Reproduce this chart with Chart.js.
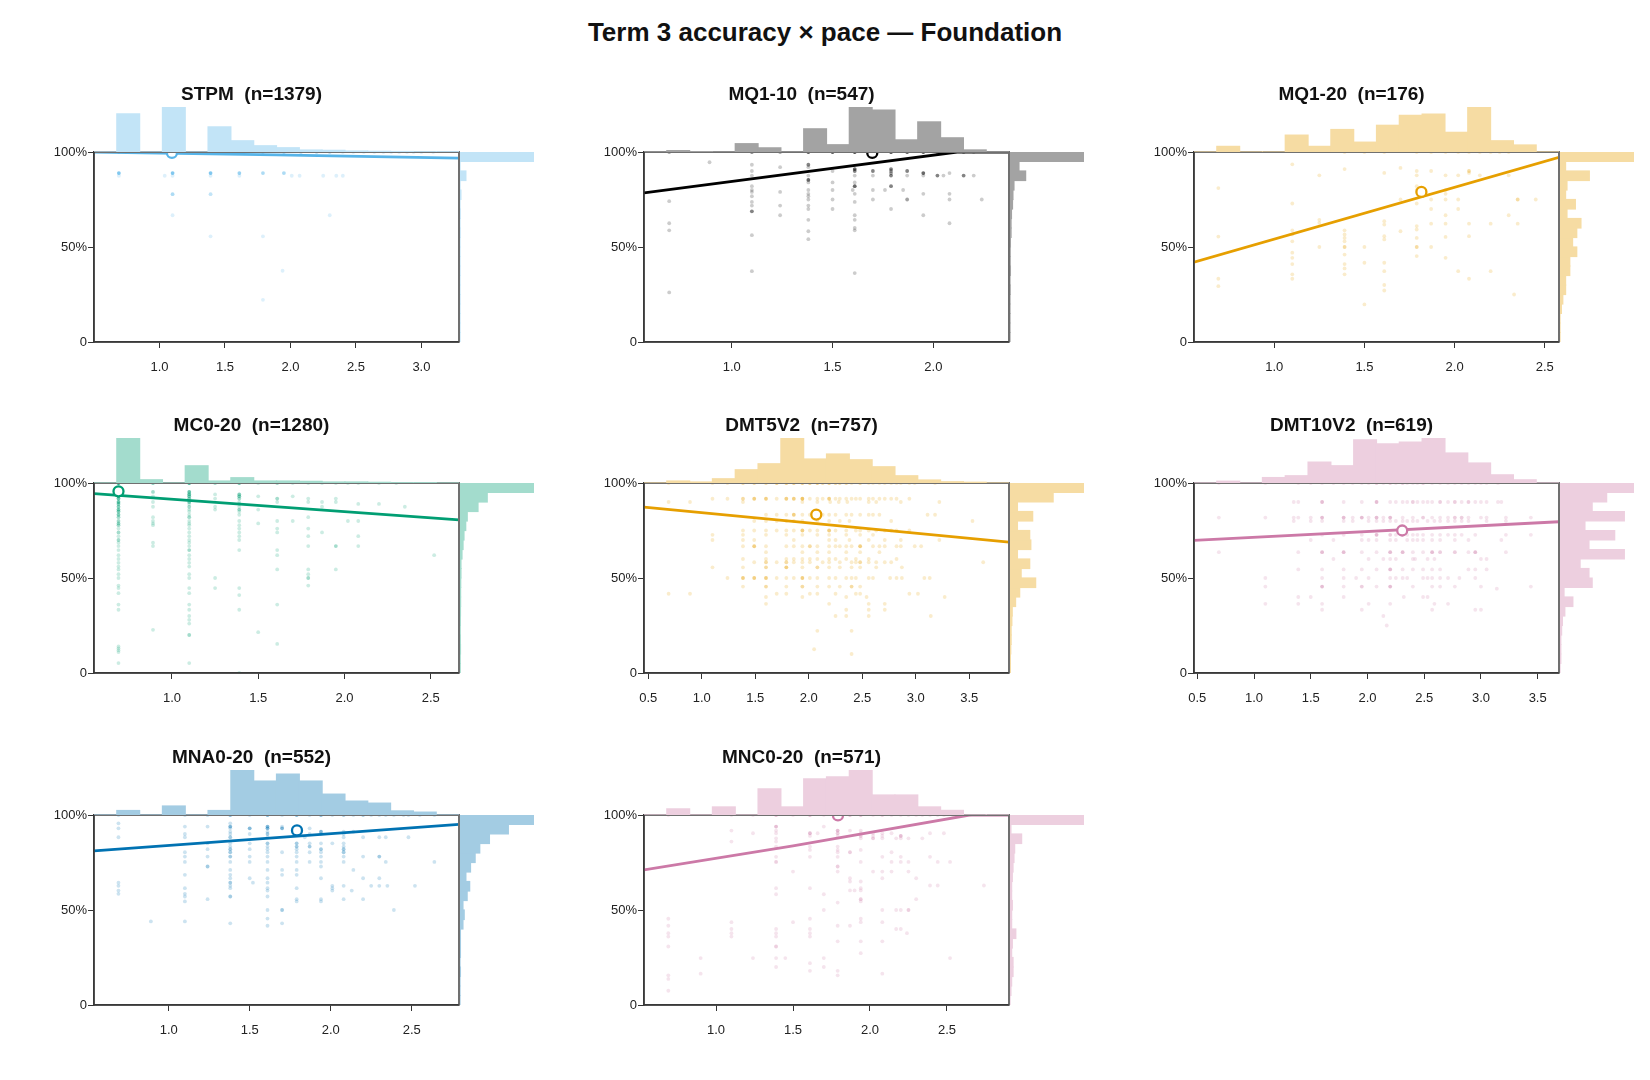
<!DOCTYPE html>
<html><head><meta charset="utf-8">
<script src="https://cdn.jsdelivr.net/npm/chart.js@4.4.1/dist/chart.umd.min.js"></script>
<style>
html,body{margin:0;padding:0;background:#fff;}
body{width:1650px;height:1080px;position:relative;overflow:hidden;font-family:"Liberation Sans",Arial,Helvetica,sans-serif;}
#title{position:absolute;left:0;width:1650px;top:17px;line-height:30px;text-align:center;font-weight:bold;font-size:26px;color:#111;}
canvas{position:absolute;}
</style></head><body>
<div id="title">Term 3 accuracy × pace — Foundation</div>
<script>
// ---------------- DATA ----------------
const panelNames = ['STPM','MQ1-10','MQ1-20','MC0-20','DMT5V2','DMT10V2','MNA0-20','MNC0-20'];
const panelN = [1379,547,176,1280,757,619,552,571];
const xMin = [0.5, 0.565, 0.555, 0.548, 0.46, 0.471, 0.539, 0.532];
const xMax = [3.287, 2.375, 2.579, 2.664, 3.871, 3.688, 2.792, 2.903];
const xTicks = [[1,1.5,2,2.5,3],[1,1.5,2],[1,1.5,2,2.5],[1,1.5,2,2.5],[0.5,1,1.5,2,2.5,3,3.5],[0.5,1,1.5,2,2.5,3,3.5],[1,1.5,2,2.5],[1,1.5,2,2.5]];
const yTicks = [0, 0.5, 1];
const meanX = [1.095, 1.697, 1.816, 0.69, 2.07, 2.306, 1.792, 1.792];
const meanY = [0.995, 0.995, 0.79, 0.956, 0.834, 0.75, 0.919, 0.998];
const fitX = [[0.5,1.89,3.287],[0.565,2.118,2.375],[0.555,2.579],[0.548,2.664],[0.46,3.871],[0.471,3.688],[0.539,2.792],[0.532,1.5,2.647,2.903]];
const fitY = [[0.999,0.985,0.968],[0.785,1.0,1.0],[0.42,0.972],[0.944,0.806],[0.873,0.689],[0.698,0.796],[0.811,0.951],[0.711,0.838,1.0,1.0]];
// x-marginal histograms: 16 equal bins across the x axis range
const topBins = [
  [0,383,0,453,0,253,113,63,43,20,17,10,7,5,3,3],
  [0,4,1,0,24,12,0,67,21,130,121,35,87,41,6,0],
  [0,4,0,0,12,4,16,7,19,26,27,14,32,8,5,0],
  [0,706,51,0,270,31,83,31,31,26,16,16,11,5,5,0],
  [0,8,4,17,53,77,180,96,116,93,65,29,12,5,3,0],
  [0,4,0,12,16,46,38,95,86,90,99,66,44,18,7,0],
  [0,11,0,22,0,11,110,83,100,83,51,34,29,10,7,0],
  [0,16,0,21,0,68,21,94,99,117,52,52,21,12,0,0]
];
// y-marginal histograms: 20 bins of 5% from 0 to 100%
const rightBins = [
  [0,0,0,0,1,0,0,1,0,0,0,3,0,4,0,15,0,100,0,1255],
  [0,0,0,0,0,1,0,2,1,1,2,5,5,7,12,14,19,75,43,355],
  [0,0,0,1,2,4,4,7,7,12,9,12,15,5,11,4,5,21,4,53],
  [2,2,4,3,2,3,4,5,5,6,8,8,17,26,34,49,62,154,233,633],
  [1,1,2,3,3,5,6,15,26,69,30,53,20,56,53,20,61,20,116,199],
  [0,1,1,1,2,3,6,16,5,40,36,25,80,36,68,31,80,40,58,92],
  [0,0,0,1,0,1,1,1,7,10,7,17,23,14,25,36,47,70,115,176],
  [0,4,7,13,13,7,10,25,7,7,10,7,7,10,13,17,20,50,4,318]
];
// student points: each row = [accuracy, pace values...]; [pace, k] = k overlapping students
const stpmRows = [
  [1.0,[0.69,6],[1.1,6],[1.39,5],[1.61,4],[1.79,3],[1.95,3],[2.08,2],[2.2,2],[2.3,2],2.4,2.48,2.56,2.64,2.71,2.77,2.83,2.89,2.94,3.0,3.09],
  [0.889,[0.69,6],[1.1,6],[1.39,6],[1.61,4],[1.79,3],[1.95,3]],
  [0.875,0.69,1.04,1.1,1.39,1.61,2.01,2.07,2.25,2.35,2.4],
  [0.778,[1.1,3],[1.39,2]],
  [0.667,1.1,2.3],
  [0.556,1.39,1.79],
  [0.375,1.94],
  [0.222,1.79]
];
const mq110Rows = [
  [1.0,[0.69,2],[1.1,3],[1.24,2],[1.38,5],[1.5,5],[1.61,6],[1.7,6],[1.79,6],[1.87,5],[1.95,5],[2.02,3],[2.08,3],[2.15,2],2.2],
  [0.946,0.89],
  [0.933,1.1,[1.38,3]],
  [0.92,1.24,1.38],
  [0.91,[1.61,4],[1.79,3]],
  [0.9,1.1,1.5,[1.61,3],[1.7,3],[1.87,3],[1.79,2]],
  [0.889,[1.95,4],2.08,[1.79,2]],
  [0.876,1.1,1.38,1.61,1.7,[1.79,3],1.87,1.95,[2.02,3],[2.15,3],2.2,2.05],
  [0.853,[1.38,4]],
  [0.84,1.38,1.5,1.61],
  [0.82,1.1,[1.61,4],[1.79,3]],
  [0.8,1.1,1.38,1.5,1.6,1.7,1.76,1.85],
  [0.79,1.1,1.24],
  [0.78,1.38,1.61,1.95,2.08],
  [0.767,1.1,1.38],
  [0.75,1.38,1.5,1.7,[1.87,2],2.08,2.24],
  [0.741,0.69],
  [0.737,1.1,1.61],
  [0.718,1.1,1.24,1.38],
  [0.7,1.38,1.5,1.79],
  [0.688,[1.1,3]],
  [0.667,1.24,1.61,1.95],
  [0.643,1.38,1.61],
  [0.625,0.69,2.08],
  [0.6,1.61],
  [0.588,0.69,1.61],
  [0.583,1.38],
  [0.562,1.1],
  [0.541,1.38],
  [0.373,1.1],
  [0.363,1.61],
  [0.261,0.69]
];
const mq120Rows = [
  [1.0,1.39,1.5,1.61,1.79,1.87,1.95,2.02,2.08,2.14,2.2,2.25,2.3],
  [0.935,1.1],[0.916,1.7],[0.91,1.39],
  [0.9,1.79,1.87,[2.08,2]],
  [0.89,1.61,2.08],
  [0.877,1.25,1.79,1.95,2.02,2.14,2.3],
  [0.82,1.79],[0.81,0.69],[0.8,1.79,1.95],[0.78,1.95],
  [0.75,1.7,1.87,1.95,2.02,[2.35,2],2.45],
  [0.729,1.1,1.79],[0.7,1.87,2.02],[0.667,1.95,2.3],
  [0.643,1.25],[0.636,1.61],[0.627,1.25],
  [0.623,1.87,1.95,2.08,2.2,2.35],
  [0.618,1.61],[0.61,1.79],[0.592,1.79],[0.588,1.1,1.39],[0.583,1.7],
  [0.566,1.1,1.39],[0.557,1.61,2.08],[0.555,0.69],[0.553,1.95],[0.548,1.39,1.79],[0.54,1.61],[0.53,1.1,1.39],
  [0.5,1.25,[1.39,2],1.5,[1.79,2],1.87],
  [0.47,1.1],[0.46,1.39],[0.452,1.79],[0.443,1.1,1.95],
  [0.417,1.5,1.61],[0.41,1.1,1.39],[0.387,1.39],[0.373,1.61,2.02,2.2],
  [0.356,1.1,1.39],[0.333,0.69,1.1,2.08],[0.3,1.61],[0.294,0.69],[0.271,1.61],[0.25,2.33],[0.198,1.5]
];
const mc020Rows = [
  [1.0,[0.69,10],[0.89,3],[1.1,6],[1.25,2],[1.39,4],1.5,[1.61,2],1.7,1.79,1.87,1.95,2.02,2.08,2.2,2.3],
  [0.953,[0.69,6],[0.89,2],[1.1,4]],
  [0.94,[0.69,5],[1.1,4],1.25,[1.39,3]],
  [0.93,[0.69,4],0.89,[1.1,3],1.5,1.7,[1.39,3]],
  [0.918,[0.69,4],[1.1,3],1.25,[1.39,2],[1.61,2],1.79,1.95],
  [0.9,[0.69,4],0.89,[1.1,3],1.39,1.61,1.79,1.87,1.95],
  [0.89,[0.69,3],1.1,1.39,2.08,2.2],
  [0.875,[0.69,3],0.89,[1.1,2],1.25,1.39,1.87,2.35],
  [0.86,[0.69,3],1.1,1.25,[1.39,2],1.5],
  [0.85,[0.69,3],1.1,1.39],
  [0.833,[0.69,3],1.1,1.39],
  [0.82,[0.69,2],0.89,[1.1,2],1.79],
  [0.8,[0.69,2],0.89,1.1,1.39,1.61,1.7,2.02,2.08],
  [0.787,[0.69,2],0.89,1.1,1.5],
  [0.778,[0.69,2],0.89,1.1,1.39],
  [0.76,0.69,1.1,1.39,1.61,1.79],
  [0.74,[0.69,2],1.1,1.39,1.61,1.87],
  [0.72,0.69,1.1,1.39,1.79,2.08],
  [0.7,[0.69,2],1.1,1.39],
  [0.686,0.69,0.89,1.1],
  [0.668,0.69,0.89,1.1,1.79,[1.95,2],2.08],
  [0.647,0.69,[1.1,2],1.39,1.61],
  [0.62,0.69,1.1,1.61,2.52],
  [0.6,0.69,1.1],[0.58,0.69,1.1],[0.56,0.69,1.1],
  [0.545,0.69,1.61,1.79,1.95],
  [0.52,0.69,1.1,1.79],
  [0.5,0.69,1.1,1.25,[1.79,2]],
  [0.46,0.69,1.79],[0.447,0.69,1.1,1.25,1.39],[0.42,0.69,1.1],[0.41,1.39],
  [0.36,0.69,1.1,1.61],[0.333,0.69,1.1,1.39],[0.3,1.1],[0.28,1.1],[0.26,1.1],
  [0.227,0.89],[0.215,1.5],[0.2,[1.1,2]],[0.153,1.61],
  [0.14,0.69],[0.13,0.69],[0.12,0.69],[0.11,0.69],[0.052,0.69,1.1],[0.0,1.39]
];
const dmt5Rows = [
  [1.0,0.69,1.1,1.24,[1.385,2],[1.49,2],[1.6,2],[1.7,3],[1.79,3],[1.86,3],[1.94,3],[2.01,3],[2.08,3],[2.13,2],[2.19,3],[2.25,2],[2.29,2],[2.35,2],2.4,[2.48,2],2.56,2.6,2.66,2.71,2.77,2.82,2.86,2.94,2.99,3.18],
  [0.917,1.1,1.24,[1.385,2],[1.49,3],[1.6,3],1.7,[1.79,3],[1.86,3],[1.94,4],2.01,2.08,2.13,[2.19,3],2.25,2.29,2.35,2.4,2.44,2.48,2.56,2.6,2.66,2.71,2.77,2.82,2.94],
  [0.9,0.69,0.89,1.385,1.94,2.08,2.2,2.28,2.36,2.56,2.63,2.86,3.22],
  [0.833,1.6,1.7,1.79,[1.86,3],1.94,2.01,2.08,2.13,2.19,2.25,2.35,2.4,2.48,2.56,2.6,2.66,3.11,3.18],
  [0.8,1.49,1.6,1.7,1.79,1.86,1.94,2.08,2.19,2.29,2.38,2.77,3.53],
  [0.75,1.385,1.49,1.6,1.7,1.79,1.86,[1.94,3],2.01,2.08,[2.19,3],2.25,2.35,2.44,2.48,2.56,2.63,2.71,2.77,2.82,2.94],
  [0.727,1.1,1.385,1.6,1.79,1.94,2.08,2.19,2.35,2.48,2.6],
  [0.7,1.1,1.385,1.49,1.86,2.19,2.25,2.38,2.56,2.71,2.86,3.22],
  [0.667,1.385,[1.49,3],1.6,1.79,1.86,1.94,[2.01,2],2.08,2.19,2.25,2.29,2.35,2.4,[2.48,3],2.6,2.66,2.71,2.82,2.86,2.99,3.05],
  [0.636,1.6,1.94,2.08,2.19,2.35,2.48,2.66],
  [0.6,1.385,1.6,1.79,1.86,1.94,2.01,2.08,2.19,2.25,2.35,2.44,2.56,2.82],
  [0.583,1.49,[1.6,2],1.7,[1.79,2],1.86,1.94,2.01,2.13,2.19,2.29,2.4,2.44,[2.48,2],2.56,2.63,2.71,2.77,3.63],
  [0.556,1.1,1.385,[1.6,2],[1.79,3],1.94,[2.08,2],2.19,2.29,2.4,2.48,2.63,2.87],
  [0.5,1.24,[1.385,3],[1.49,3],[1.6,3],1.7,1.79,1.86,[1.94,3],2.01,2.08,2.19,2.25,2.35,2.4,2.44,2.56,2.6,2.76,2.82,2.87,3.08,3.13],
  [0.455,1.385,[1.6,2],1.79,[1.94,2],2.08,2.19,2.29,[2.4,2],2.48],
  [0.417,0.69,0.89,1.7,1.79,2.01,2.08,2.25,2.44,2.48,2.94,3.02],
  [0.4,1.6,1.94,2.35,2.54,3.27],
  [0.364,1.6,2.19,2.56,2.71],
  [0.333,2.35,2.56,2.71],
  [0.3,2.25,2.35,2.56,3.14],
  [0.222,2.08,2.4],
  [0.125,2.05],
  [0.1,2.4]
];
const dmt10Rows = [
  [1.0,0.69,1.1,1.39,1.5,1.6,1.7,1.79,1.87,1.95,2.01,[2.08,2],2.14,[2.2,2],2.25,[2.31,2],2.35,2.4,2.44,[2.49,2],2.57,2.64,2.71,2.77,2.83,2.89,2.95,3.0,3.05,3.15],
  [0.9,1.35,1.39,[1.6,3],1.79,1.95,[2.08,3],2.2,2.25,2.31,2.35,[2.4,2],2.44,2.49,2.53,2.57,[2.64,2],2.71,[2.77,2],2.83,[2.89,2],2.95,3.0,3.05,3.15,3.18],
  [0.818,0.69,1.1,1.35,1.39,1.5,[1.6,3],[1.79,3],1.87,[1.95,3],2.01,[2.08,3],2.14,[2.2,3],2.31,2.4,[2.49,2],2.57,2.64,2.71,[2.77,2],[2.83,2],2.89,3.0,3.05,3.22,3.44],
  [0.8,1.35,1.5,1.6,1.79,1.87,2.01,2.08,2.14,2.2,2.25,2.31,2.35,2.4,2.44,2.53,2.59,2.64,2.71,2.77,2.83,2.89,3.05,3.22],
  [0.727,1.6,1.79,1.95,[2.08,3],[2.2,2],2.25,2.31,2.35,2.4,2.44,2.49,2.57,2.64,2.71,2.77,2.83,2.95,3.22,3.44],
  [0.7,1.5,1.7,1.95,2.01,2.08,2.2,2.25,2.35,2.4,2.44,2.49,2.57,2.64,2.77,2.89,3.18],
  [0.636,0.69,1.39,[1.6,3],[1.79,3],1.95,2.08,[2.2,3],[2.31,3],2.4,2.49,[2.57,3],[2.64,2],[2.77,2],2.89,[2.95,3],3.22],
  [0.6,1.7,2.01,2.14,2.2,2.25,2.4,2.42,2.53,2.59,3.0,3.05],
  [0.545,1.39,1.6,1.79,1.95,2.08,[2.2,3],2.31,2.4,2.49,2.57,2.64,2.89,2.95,3.05],
  [0.5,1.1,1.6,1.79,1.9,2.01,2.2,2.25,2.31,2.35,2.49,2.53,2.57,2.64,2.71,2.81,2.95],
  [0.455,1.1,[1.6,3],1.79,[1.95,2],2.08,[2.2,3],2.4,2.57,2.64,2.77,3.0,3.44],
  [0.444,3.14],
  [0.4,1.39,1.5,1.79,2.32,2.49,2.53],
  [0.364,1.1,1.39,1.6,2.01,2.2,2.59,2.71],
  [0.333,1.6,1.95,2.57,2.95,3.0],
  [0.3,2.14],
  [0.25,2.17]
];
const mna020Rows = [
  [1.0,0.69,1.1,1.24,[1.38,3],1.5,[1.61,3],1.7,[1.79,3],1.87,[1.94,3],2.01,[2.08,2],2.14,[2.2,2],2.25,2.3,2.34,2.39,2.45,2.48,2.55,2.64],
  [0.956,0.69,1.38],
  [0.939,1.1,1.24,[1.38,3],[1.61,3],1.7],
  [0.93,0.69,1.38,[1.5,3],[1.61,3],[1.7,3],1.79,1.87],
  [0.912,1.38,1.61,[1.94,3],2.08,2.14],
  [0.9,1.1,1.38,1.5,[1.61,2],1.79,1.87,1.94,2.08],
  [0.883,0.69,1.1,[1.38,2],1.61,1.84,2.08,2.2,2.3,2.34,2.48],
  [0.851,1.24,1.38,1.5,[1.61,2],[1.79,2],1.87,1.94,2.01,2.08],
  [0.834,1.38,1.61,[1.79,2],[1.87,2],2.08],
  [0.82,1.24,[1.38,2],1.5,1.61,1.79,[1.94,2],[2.08,2]],
  [0.804,1.1,[1.38,2],1.61,1.7,1.79,1.87,1.94,[2.08,2]],
  [0.781,1.1,1.24,[1.38,2],1.5,1.61,1.79,1.94,2.08,2.2,[2.3,2]],
  [0.753,1.1,1.38,1.5,1.61,1.79,1.87,1.94,2.08,2.34,2.64],
  [0.729,[1.24,2],1.94],
  [0.711,1.38,1.61,1.7,1.79,2.14],
  [0.685,1.1,1.38,1.7,1.79],
  [0.667,1.38,1.5,1.61,1.94,2.2,2.3],
  [0.644,0.69,[1.38,2],1.52,1.61],
  [0.627,0.69,1.38,2.01,2.08,2.25,2.3,2.35,2.52],
  [0.615,1.1,1.38,1.61,1.79,2.01],
  [0.602,0.69,1.61,2.01,2.13],
  [0.585,0.69,1.1],
  [0.571,1.1,[1.38,2],1.61],
  [0.557,1.24,1.79,1.94,2.08,2.2],
  [0.545,1.1,1.79,1.94],
  [0.5,1.61,[1.7,2],2.39],
  [0.455,1.61],
  [0.44,0.89,1.1],
  [0.43,1.38,1.7],
  [0.417,1.61]
];
const mnc020Rows = [
  [1.0,0.69,1.1,1.24,[1.39,3],1.5,[1.61,3],1.7,[1.79,2],[1.87,3],[1.94,3],2.02,[2.08,2],2.14,2.2,2.25,2.3,2.34,2.39,2.44,2.48,2.54,2.65],
  [0.939,[1.39,3],1.7],
  [0.918,1.1,1.39,[1.79,3],1.87,1.94],
  [0.904,1.24,1.39,[1.61,3],1.66,[1.79,2],1.94,2.02,2.08,2.14,2.39,2.48],
  [0.89,1.61,1.79,[1.94,2],2.02,2.08,[2.2,3]],
  [0.877,1.39,1.94,[2.02,2],2.08,2.17,2.2,2.25,2.34],
  [0.86,1.1,1.39],
  [0.834,1.39,1.61,1.79],
  [0.816,1.61,1.79,1.94],
  [0.804,1.79,[1.87,2],2.14],
  [0.78,1.39,1.61,1.79,2.08,2.2,2.39],
  [0.753,[1.39,2],1.94,2.14,2.2,2.25,2.44,2.52],
  [0.729,[1.79,2]],
  [0.702,1.5,1.79,2.02,2.08,2.14,2.25],
  [0.667,1.87,2.08,2.3],
  [0.65,1.87,1.94],
  [0.629,2.39,2.44,2.74],
  [0.615,1.39,1.61,1.94],
  [0.603,1.87,1.9,1.94],
  [0.583,1.39,1.7],
  [0.557,[1.94,2],2.3],
  [0.545,1.94],
  [0.539,1.79],
  [0.5,1.7,2.08,2.17,2.2,[2.25,2]],
  [0.454,0.69,1.61,1.94],
  [0.436,1.1,1.5,1.94,2.08],
  [0.417,0.69,1.79,1.87],
  [0.4,1.1,1.39,1.61,2.17,2.2],
  [0.378,0.69,1.1,1.39,1.61,2.24],
  [0.36,0.69,1.1,1.39,1.61],
  [0.335,1.79,1.94,2.08],
  [0.308,0.69,[1.39,2]],
  [0.273,1.94],
  [0.247,0.9,1.24,1.39,1.45,1.7,2.52],
  [0.22,1.61],
  [0.2,1.39,1.7],
  [0.18,1.61,1.79],
  [0.165,0.9,2.08],
  [0.156,0.69,1.79],
  [0.137,0.69],
  [0.075,0.69]
];
const pointRows = [stpmRows, mq110Rows, mq120Rows, mc020Rows, dmt5Rows, dmt10Rows, mna020Rows, mnc020Rows];

// ---------------- STYLE / LAYOUT ----------------
const panelColors = ['#56B4E9','#000000','#E69F00','#009E73','#E69F00','#CC79A7','#0072B2','#CC79A7'];
const colLeft = [94, 644, 1194];
const rowTop = [152, 483, 815];
const plotW = 365, plotH = 190, topHistH = 45, rightHistW = 74;
const ptAlpha = 0.2, histAlpha = 0.36;

Chart.defaults.font.family = '"Liberation Sans", Arial, Helvetica, sans-serif';
Chart.defaults.color = '#222';

function rgba(hex, a){ const v = parseInt(hex.slice(1),16); return `rgba(${(v>>16)&255},${(v>>8)&255},${v&255},${a})`; }
function tint(hex, a){ // colour blended onto white (opaque)
  const v = parseInt(hex.slice(1),16);
  const f = c => Math.round(255 - a * (255 - c));
  return `rgb(${f((v>>16)&255)},${f((v>>8)&255)},${f(v&255)})`;
}
function toPoints(rows){
  const out = [];
  rows.forEach(r => { const y = r[0]; r.slice(1).forEach(e => {
    if (Array.isArray(e)) out.push({x:e[0], y:y, n:e[1]}); else out.push({x:e, y:y, n:1});
  }); });
  return out;
}
function makeCanvas(w, h){
  const c = document.createElement('canvas');
  c.width = w; c.height = h; c.style.width = w+'px'; c.style.height = h+'px';
  document.body.appendChild(c); return c;
}
const framePlugin = {
  id: 'frame',
  afterDatasetsDraw(chart){
    const {ctx, chartArea:a} = chart;
    ctx.save();
    ctx.strokeStyle = '#707070'; ctx.lineWidth = 2;
    ctx.beginPath(); ctx.moveTo(a.left, a.top); ctx.lineTo(a.right, a.top); ctx.lineTo(a.right, a.bottom); ctx.stroke();
    ctx.strokeStyle = '#3a3a3a'; ctx.lineWidth = 1.5;
    ctx.beginPath(); ctx.moveTo(a.left, a.top); ctx.lineTo(a.left, a.bottom); ctx.lineTo(a.right, a.bottom); ctx.stroke();
    ctx.restore();
  }
};
const tickGrid = {display:true, drawOnChartArea:false, drawTicks:true, tickLength:6, color:'#333', tickWidth:1};

panelNames.forEach((name, i) => {
  const col = panelColors[i];
  const L = colLeft[i % 3], T = rowTop[Math.floor(i / 3)];
  // ---- scatter + fit + centre marker ----
  const cv = makeCanvas(465, 74 + plotH + 40);
  const chart = new Chart(cv, {
    type: 'scatter',
    data: { datasets: [
      { label:'centre', data:[{x:meanX[i], y:meanY[i]}], pointRadius:5, pointBorderWidth:2.3,
        pointBackgroundColor:'#ffffff', pointBorderColor:col, clip:0, order:0 },
      { type:'line', label:'fit', data: fitX[i].map((x,k)=>({x:x, y:fitY[i][k]})), borderColor:col, borderWidth:2.8,
        pointRadius:0, fill:false, tension:0, clip:0, order:1 },
      { label:'students', data: toPoints(pointRows[i]), pointRadius:1.9, pointBorderWidth:0,
        pointBackgroundColor: ctx => rgba(col, 1 - Math.pow(1 - ptAlpha, (ctx.raw && ctx.raw.n) ? ctx.raw.n : 1)),
        clip:0, order:2 }
    ]},
    options: {
      responsive:false, animation:false, events:[],
      layout:{padding:{top:5, right:50, bottom:0, left:0}},
      plugins:{
        legend:{display:false}, tooltip:{enabled:false},
        title:{display:true, text: name + '  (n=' + panelN[i] + ')', color:'#111',
               font:{size:19, weight:'bold'}, padding:{top:0, bottom:46.2}}
      },
      scales:{
        x:{type:'linear', min:xMin[i], max:xMax[i],
           afterBuildTicks: s => { s.ticks = xTicks[i].map(v => ({value:v})); },
           afterFit: s => { s.height = 40; },
           ticks:{callback: v => Number(v).toFixed(1), font:{size:13}, color:'#222', padding:12, maxRotation:0, autoSkip:false},
           grid: tickGrid, border:{display:true, color:'#3a3a3a', width:1.5}},
        y:{type:'linear', min:0, max:1,
           afterBuildTicks: s => { s.ticks = yTicks.map(v => ({value:v})); },
           afterFit: s => { s.width = 50; },
           ticks:{callback: v => v === 0 ? '0' : Math.round(v*100) + '%', font:{size:13}, color:'#222', padding:1},
           grid: tickGrid, border:{display:true, color:'#3a3a3a', width:1.5}}
      }
    },
    plugins:[framePlugin]
  });
  const a = chart.chartArea;
  cv.style.left = Math.round(L - a.left) + 'px';
  cv.style.top = Math.round(T - a.top) + 'px';
  const areaH = Math.round(a.bottom - a.top);
  const nb = topBins[i].length, bw = (xMax[i] - xMin[i]) / nb;

  // ---- top (pace) histogram ----
  const ct = makeCanvas(plotW, topHistH);
  ct.style.left = L + 'px'; ct.style.top = (T - topHistH) + 'px';
  new Chart(ct, {
    type:'bar',
    data:{datasets:[{data: topBins[i].map((c,k)=>({x: xMin[i] + (k + 0.5) * bw, y: c})),
      backgroundColor: tint(col, histAlpha), borderWidth:0, inflateAmount:0.6, categoryPercentage:1, barPercentage:1}]},
    options:{responsive:false, animation:false, events:[], layout:{padding:0},
      plugins:{legend:{display:false}, tooltip:{enabled:false}},
      scales:{x:{type:'linear', min:xMin[i], max:xMax[i], display:false, offset:false},
              y:{type:'linear', min:0, max:Math.max(...topBins[i]), display:false}}}
  });

  // ---- right (accuracy) histogram ----
  const nr = rightBins[i].length;
  const cr = makeCanvas(rightHistW, areaH);
  cr.style.left = (L + plotW + 1) + 'px'; cr.style.top = T + 'px';
  new Chart(cr, {
    type:'bar',
    data:{datasets:[{data: rightBins[i].map((c,k)=>({x: c, y: (k + 0.5) / nr})),
      backgroundColor: tint(col, histAlpha), borderWidth:0, inflateAmount:0.6, categoryPercentage:1, barPercentage:1}]},
    options:{indexAxis:'y', responsive:false, animation:false, events:[], layout:{padding:0},
      plugins:{legend:{display:false}, tooltip:{enabled:false}},
      scales:{y:{type:'linear', min:0, max:1, display:false, offset:false},
              x:{type:'linear', min:0, max:Math.max(...rightBins[i]), display:false}}}
  });
});
</script>
</body></html>
